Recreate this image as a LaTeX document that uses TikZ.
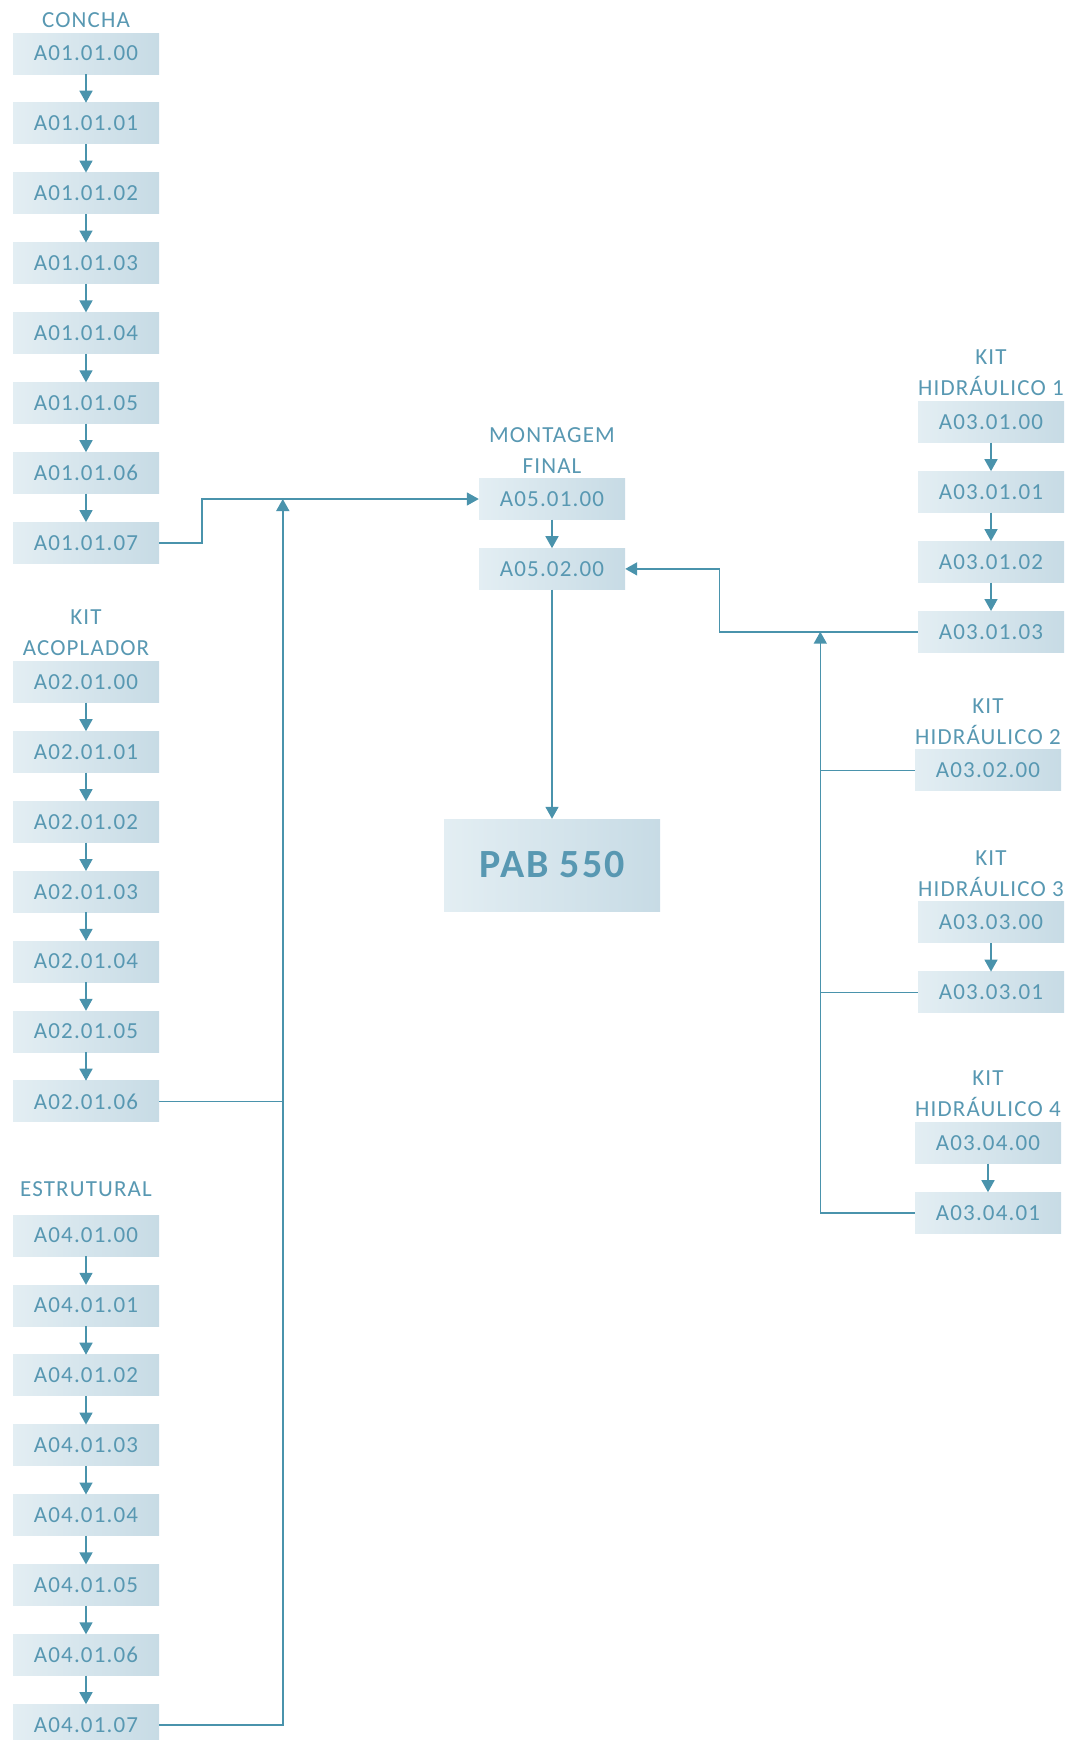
\documentclass[tikz,border=0pt]{standalone}
\usepackage{fontspec}
\setmainfont{Carlito}[LetterSpace=5]
\usetikzlibrary{positioning,arrows.meta}

\definecolor{linecol}{RGB}{74,147,172}
\definecolor{textcol}{RGB}{88,152,178}
\definecolor{boxleft}{RGB}{227,238,243}
\definecolor{boxright}{RGB}{199,219,229}

\tikzset{
    unit/.style={rectangle, minimum width=146pt, minimum height=41pt, inner sep=0pt,
        left color=boxleft, right color=boxright, text=textcol,
        font=\fontsize{23}{31}\selectfont},
    title/.style={align=center, inner sep=0pt, text=textcol,
        font=\fontsize{23}{31}\selectfont},
    link/.style={draw=linecol, line width=1.6pt},
}

\begin{document}
\begin{tikzpicture}[node distance=28.5pt, >={Triangle[length=12pt,width=13pt]}]
    \useasboundingbox (0,0) rectangle (1078pt,-1740pt);

    % Concha
    \node[unit] (a10) at (86pt,-53.5pt) {A01.01.00};
    \node[title, above=5pt of a10] (concha) {CONCHA};
    \node[unit, below=of a10] (a11) {A01.01.01};
    \node[unit, below=of a11] (a12) {A01.01.02};
    \node[unit, below=of a12] (a13) {A01.01.03};
    \node[unit, below=of a13] (a14) {A01.01.04};
    \node[unit, below=of a14] (a15) {A01.01.05};
    \node[unit, below=of a15] (a16) {A01.01.06};
    \node[unit, below=of a16] (a17) {A01.01.07};

    % Kit acoplador
    \node[unit] (a20) at (86pt,-682pt) {A02.01.00};
    \node[title, above=5pt of a20] (acoplador) {KIT\\ACOPLADOR};
    \node[unit, below=of a20] (a21) {A02.01.01};
    \node[unit, below=of a21] (a22) {A02.01.02};
    \node[unit, below=of a22] (a23) {A02.01.03};
    \node[unit, below=of a23] (a24) {A02.01.04};
    \node[unit, below=of a24] (a25) {A02.01.05};
    \node[unit, below=of a25] (a26) {A02.01.06};

    % Estrutural
    \node[unit] (a40) at (86pt,-1235.6pt) {A04.01.00};
    \node[title, above=18pt of a40] (estrutural) {ESTRUTURAL};
    \node[unit, below=of a40] (a41) {A04.01.01};
    \node[unit, below=of a41] (a42) {A04.01.02};
    \node[unit, below=of a42] (a43) {A04.01.03};
    \node[unit, below=of a43] (a44) {A04.01.04};
    \node[unit, below=of a44] (a45) {A04.01.05};
    \node[unit, below=of a45] (a46) {A04.01.06};
    \node[unit, below=of a46] (a47) {A04.01.07};

    % Montagem final
    \node[unit] (a51) at (552pt,-499pt) {A05.01.00};
    \node[title, above=5pt of a51] (montagem) {MONTAGEM\\FINAL};
    \node[unit, below=of a51] (a52) {A05.02.00};
    \node[unit, minimum width=216pt, minimum height=92pt,
        font=\bfseries\fontsize{40}{48}\selectfont] (pab) at (552pt,-865pt) {PAB 550};

    % Kits hidraulicos
    \node[unit] (a310) at (991pt,-422pt) {A03.01.00};
    \node[title, above=5pt of a310] (hid1) {KIT\\HIDRÁULICO 1};
    \node[unit, below=of a310] (a311) {A03.01.01};
    \node[unit, below=of a311] (a312) {A03.01.02};
    \node[unit, below=of a312] (a313) {A03.01.03};

    \node[unit] (a320) at (988pt,-770.3pt) {A03.02.00};
    \node[title, above=5pt of a320] (hid2) {KIT\\HIDRÁULICO 2};

    \node[unit] (a330) at (991pt,-922.4pt) {A03.03.00};
    \node[title, above=5pt of a330] (hid3) {KIT\\HIDRÁULICO 3};
    \node[unit, below=of a330] (a331) {A03.03.01};

    \node[unit] (a340) at (988pt,-1143pt) {A03.04.00};
    \node[title, above=5pt of a340] (hid4) {KIT\\HIDRÁULICO 4};
    \node[unit, below=of a340] (a341) {A03.04.01};

    % Arrows
    \draw[link,->] (a10) -- (a11);
    \draw[link,->] (a11) -- (a12);
    \draw[link,->] (a12) -- (a13);
    \draw[link,->] (a13) -- (a14);
    \draw[link,->] (a14) -- (a15);
    \draw[link,->] (a15) -- (a16);
    \draw[link,->] (a16) -- (a17);

    \draw[link,->] (a20) -- (a21);
    \draw[link,->] (a21) -- (a22);
    \draw[link,->] (a22) -- (a23);
    \draw[link,->] (a23) -- (a24);
    \draw[link,->] (a24) -- (a25);
    \draw[link,->] (a25) -- (a26);

    \draw[link,->] (a40) -- (a41);
    \draw[link,->] (a41) -- (a42);
    \draw[link,->] (a42) -- (a43);
    \draw[link,->] (a43) -- (a44);
    \draw[link,->] (a44) -- (a45);
    \draw[link,->] (a45) -- (a46);
    \draw[link,->] (a46) -- (a47);

    \draw[link,->] (a310) -- (a311);
    \draw[link,->] (a311) -- (a312);
    \draw[link,->] (a312) -- (a313);
    \draw[link,->] (a330) -- (a331);
    \draw[link,->] (a340) -- (a341);

    \draw[link,->] (a51) -- (a52);
    \draw[link,->] (a52) -- (pab);

    % Joins
    \coordinate[left=196pt of a51.west] (joinL);
    \draw[link,->] (a17.east) -- ++(43pt,0) |- (a51.west);
    \draw[link,->] (a47.east) -| (joinL);
    \draw[link] (a26.east) -- (a26.east -| joinL);

    \coordinate[left=97.5pt of a313.west] (joinR);
    \draw[link,->] (a313.west) -- ++(-198.5pt,0) |- (a52.east);
    \draw[link,->] (a341.west) -| (joinR);
    \draw[link] (a320.west) -- (a320.west -| joinR);
    \draw[link] (a331.west) -- (a331.west -| joinR);

\end{tikzpicture}
\end{document}
